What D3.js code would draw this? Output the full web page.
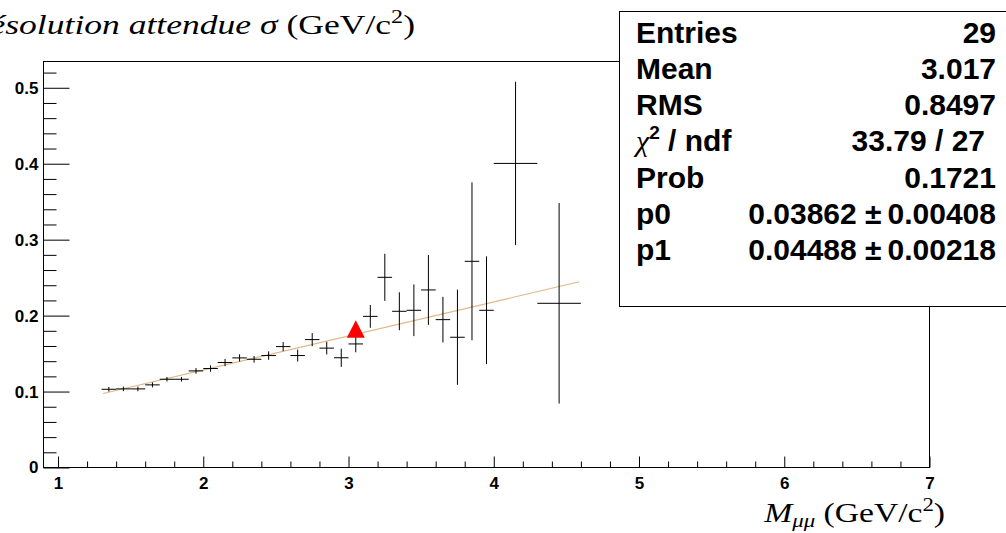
<!DOCTYPE html>
<html><head><meta charset="utf-8">
<script src="https://cdn.jsdelivr.net/npm/d3@7"></script>
<style>body{margin:0;background:#fff;overflow:hidden} svg{display:block}</style>
</head><body>
<svg id="c" width="1006" height="533"></svg>
<script>
// ---- data ----
const xCenters = [1.35,1.45,1.55,1.65,1.75,1.85,1.95,2.05,2.15,2.25,2.35,2.45,2.55,2.65,2.75,2.85,2.95,3.05,3.15,3.25,3.35,3.45,3.55,3.65,3.75,3.85,3.95,4.15,4.45];
const xHalfWidths = [0.05,0.05,0.05,0.05,0.05,0.05,0.05,0.05,0.05,0.05,0.05,0.05,0.05,0.05,0.05,0.05,0.05,0.05,0.05,0.05,0.05,0.05,0.05,0.05,0.05,0.05,0.05,0.15,0.15];
const yValues = [0.1030,0.1035,0.1035,0.1088,0.1162,0.1162,0.1272,0.1303,0.1382,0.1443,0.1425,0.1474,0.1592,0.1474,0.1684,0.1572,0.1445,0.1627,0.1990,0.2504,0.2057,0.2070,0.2338,0.1947,0.1715,0.2715,0.2070,0.4004,0.2162];
const yErrors = [0.003,0.003,0.003,0.0033,0.003,0.003,0.0037,0.0042,0.0048,0.0048,0.0044,0.0055,0.006,0.0079,0.0086,0.0083,0.012,0.011,0.015,0.031,0.025,0.034,0.046,0.030,0.0627,0.104,0.071,0.1076,0.132];
const xTickValues = [1,2,3,4,5,6,7];
const yTickValues = [0,0.1,0.2,0.3,0.4,0.5];
const fitParams = [0.03862, 0.04488];
const fitRange = [1.31, 4.59];
const highlightPoint = [3.05, 0.182];
const statsLabels = ["Entries","Mean","RMS","χ2 / ndf","Prob","p0","p1"];
const statsValues = ["29","3.017","0.8497","33.79 / 27","0.1721","0.03862 \u00b1\u20090.00408","0.04488 \u00b1\u20090.00218"];

// ---- layout ----
const L = 43.5, R = 929.5, T = 61.5, B = 467.5;
const svg = d3.select("#c");
const x = d3.scaleLinear().domain([0.9, 7]).range([L, R]);
const y = d3.scaleLinear().domain([0, 0.5346]).range([B, T]);

// frame
svg.append("rect").attr("x", L).attr("y", T).attr("width", R - L).attr("height", B - T)
  .attr("fill", "none").attr("stroke", "#000").attr("stroke-width", 1);

// axes
const lab = "Liberation Sans, Arial, sans-serif";
function styleAxis(g) {
  g.selectAll("path.domain").remove();
  g.selectAll("line").attr("stroke", "#000");
  g.selectAll("text").attr("font-family", lab).attr("font-weight", "bold").attr("font-size", 17).attr("fill", "#000");
}
const yMinor = d3.range(0, 0.535, 0.02).filter(v => Math.abs(v * 10 - Math.round(v * 10)) > 1e-6);
svg.append("g").attr("transform", `translate(${L},0)`)
  .call(d3.axisLeft(y).tickValues(yMinor).tickSize(-13).tickFormat(""))
  .call(styleAxis);
svg.append("g").attr("transform", `translate(${L},0)`)
  .call(d3.axisLeft(y).tickValues(yTickValues).tickSize(-26).tickPadding(5)
    .tickFormat(d => d === 0 ? "0" : d3.format(".1f")(d)))
  .call(styleAxis);

const xMinor = d3.range(1, 7.001, 0.2).filter(v => Math.abs(v - Math.round(v)) > 1e-6);
svg.append("g").attr("transform", `translate(0,${B})`)
  .call(d3.axisBottom(x).tickValues(xMinor).tickSize(-6).tickFormat(""))
  .call(styleAxis);
svg.append("g").attr("transform", `translate(0,${B})`)
  .call(d3.axisBottom(x).tickValues(xTickValues).tickSize(-11).tickPadding(9).tickFormat(d3.format("d")))
  .call(styleAxis);

// fit line
svg.append("line")
  .attr("x1", x(fitRange[0])).attr("y1", y(fitParams[0] + fitParams[1] * fitRange[0]))
  .attr("x2", x(fitRange[1])).attr("y2", y(fitParams[0] + fitParams[1] * fitRange[1]))
  .attr("stroke", "#deb887").attr("stroke-width", 1.2);

// error bars
const pts = xCenters.map((c, i) => ({ c, hw: xHalfWidths[i], v: yValues[i], e: yErrors[i] }));
const gp = svg.append("g").attr("stroke", "#000").attr("stroke-width", 1);
gp.selectAll("line.h").data(pts).join("line").attr("class", "h")
  .attr("x1", d => x(d.c - d.hw)).attr("x2", d => x(d.c + d.hw))
  .attr("y1", d => y(d.v)).attr("y2", d => y(d.v));
gp.selectAll("line.v").data(pts).join("line").attr("class", "v")
  .attr("x1", d => x(d.c)).attr("x2", d => x(d.c))
  .attr("y1", d => y(d.v - d.e)).attr("y2", d => y(d.v + d.e));

// highlighted marker (triangle)
const hx = x(highlightPoint[0]), hy = y(highlightPoint[1]);
svg.append("path")
  .attr("d", `M${hx},${hy - 9}L${hx + 9},${hy + 8.5}L${hx - 9},${hy + 8.5}Z`)
  .attr("fill", "#ff0000");

// titles
const serif = "Liberation Serif, Times New Roman, serif";
const ytg = svg.append("g").attr("transform", "translate(415,34) scale(1.27,1)");
const yt = ytg.append("text").attr("x", 0).attr("y", 0).attr("text-anchor", "end")
  .attr("font-family", serif).attr("font-size", 28).attr("fill", "#000");
yt.append("tspan").attr("font-style", "italic").text("Résolution attendue ");
yt.append("tspan").attr("font-style", "italic").text("σ");
yt.append("tspan").attr("font-style", "normal").text(" (GeV/c");
yt.append("tspan").attr("font-style", "normal").attr("font-size", 19).attr("dy", -11).text("2");
yt.append("tspan").attr("font-style", "normal").attr("dy", 11).text(")");

const xtg = svg.append("g").attr("transform", "translate(945,522) scale(1.2,1)");
const xt = xtg.append("text").attr("x", 0).attr("y", 0).attr("text-anchor", "end")
  .attr("font-family", serif).attr("font-size", 28).attr("fill", "#000");
xt.append("tspan").attr("font-style", "italic").text("M");
xt.append("tspan").attr("font-style", "italic").attr("font-size", 19).attr("dy", 5).text("μμ");
xt.append("tspan").attr("font-style", "normal").attr("dy", -5).text(" (GeV/c");
xt.append("tspan").attr("font-style", "normal").attr("font-size", 19).attr("dy", -11).text("2");
xt.append("tspan").attr("font-style", "normal").attr("dy", 11).text(")");

// stats box
const sb = svg.append("g");
sb.append("rect").attr("x", 619.5).attr("y", 11.5).attr("width", 400).attr("height", 295)
  .attr("fill", "#fff").attr("stroke", "#000").attr("stroke-width", 1);
const rowY = i => 42.5 + i * 36.3;
statsLabels.forEach((t, i) => {
  const tx = sb.append("text").attr("x", 636).attr("y", rowY(i))
    .attr("font-family", lab).attr("font-weight", "bold").attr("font-size", 30).attr("fill", "#000");
  if (t.startsWith("χ2")) {
    tx.append("tspan").attr("font-family", serif).attr("font-style", "italic").attr("font-weight", "normal").text("χ");
    tx.append("tspan").attr("font-style", "normal").attr("font-size", 19).attr("dy", -12).text("2");
    tx.append("tspan").attr("font-style", "normal").attr("dy", 12).text(" / ndf");
  } else tx.text(t);
  sb.append("text").attr("x", i === 3 ? 985 : 996).attr("y", rowY(i)).attr("text-anchor", "end")
    .attr("font-family", lab).attr("font-weight", "bold").attr("font-size", 30).attr("fill", "#000")
    .text(statsValues[i]);
});
</script>
</body></html>
